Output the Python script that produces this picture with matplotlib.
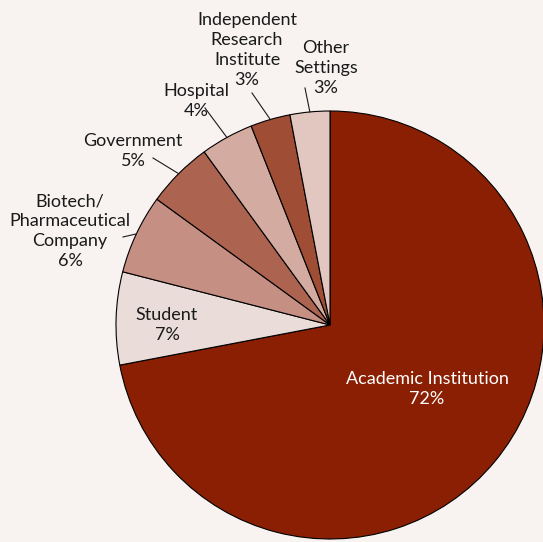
import numpy as np
import matplotlib.pyplot as plt

# data
categories = ['Academic Institution', 'Student', 'Biotech/\nPharmaceutical\nCompany',
              'Government', 'Hospital', 'Independent\nResearch\nInstitute', 'Other\nSettings']
shares = [72, 7, 6, 5, 4, 3, 3]
colors = ['#8b1f03', '#eaddd9', '#c59083', '#ac6350', '#d4aba1', '#9f4d35', '#e2c6c0']

# label layout (pixels from top-left) and whether a leader line is drawn
label_pos = [(427, 389), (167, 325), (70, 231), (133, 151), (196, 101), (247, 50), (326, 68)]
leaders = [False, False, True, True, True, True, True]
leader_start = [None, None, (123, 237), (153, 158), (205, 108), (252, 93), (305, 88)]

W, H = 543, 542
bg = '#f8f3f1'
plt.rcParams['font.family'] = ['Lato', 'DejaVu Sans']

fig = plt.figure(figsize=(W / 100, H / 100), dpi=100, facecolor=bg)
ax = fig.add_axes([0, 0, 1, 1])
ax.set_facecolor(bg)

cx, cy, r = 330, 325, 214
wedges, _ = ax.pie(shares, colors=colors, startangle=90, counterclock=False,
                   center=(cx, H - cy), radius=r, frame=True,
                   wedgeprops=dict(edgecolor='black', linewidth=0.8))

for i, (w, cat, s) in enumerate(zip(wedges, categories, shares)):
    lx, ly = label_pos[i]
    col = 'white' if i == 0 else '#1a1a1a'
    ax.text(lx, H - ly, f'{cat}\n{s}%', ha='center', va='center', fontsize=13,
            color=col, linespacing=1.3)
    if leaders[i]:
        ang = np.deg2rad((w.theta1 + w.theta2) / 2)
        ex, ey = cx + r * np.cos(ang), H - cy + r * np.sin(ang)
        sx, sy = leader_start[i]
        ax.plot([sx, ex], [H - sy, ey], color='#1a1a1a', lw=0.8)

ax.set_xlim(0, W)
ax.set_ylim(0, H)
ax.set_aspect('auto')
ax.axis('off')

fig.savefig('out.png', dpi=100, facecolor=bg)
